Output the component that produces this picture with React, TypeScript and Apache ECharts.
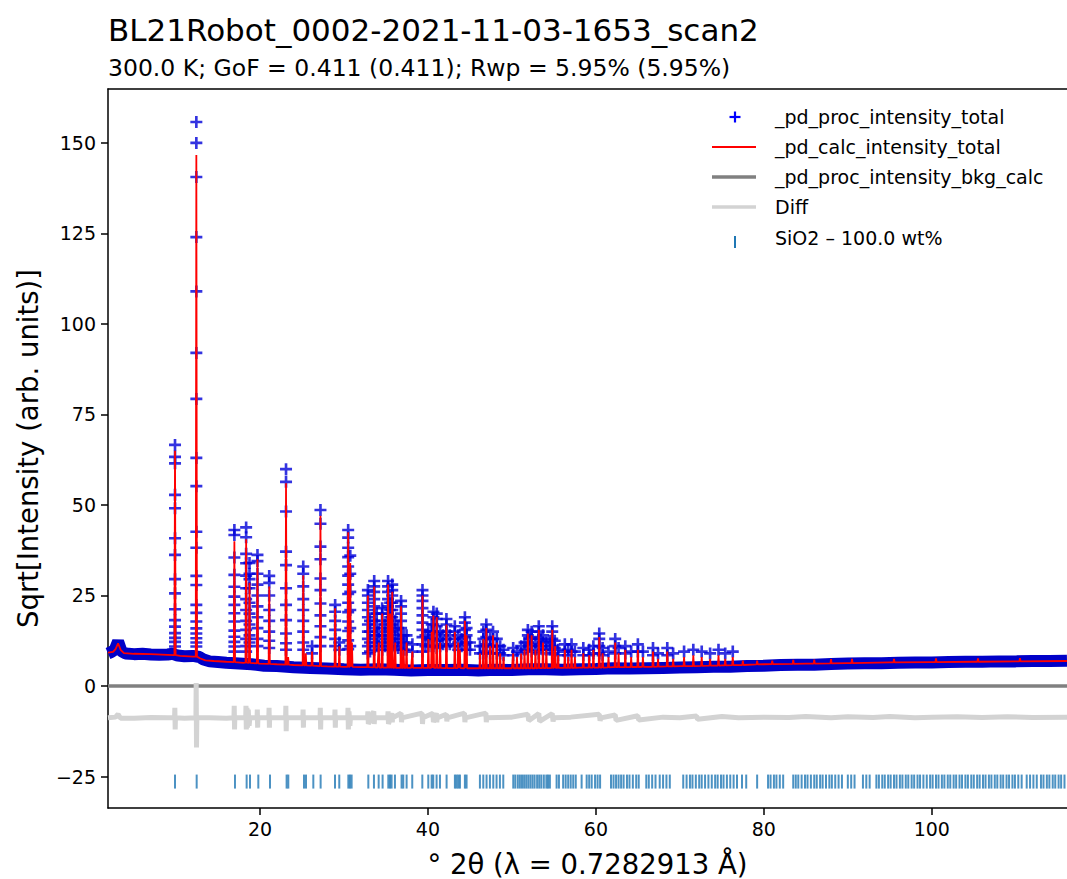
import React, { useEffect, useRef } from "react";
import * as echarts from "echarts";

const FONT = "'DejaVu Sans', 'Noto Sans', sans-serif";

const titleText = "BL21Robot_0002-2021-11-03-1653_scan2";
const subtitleText = "300.0 K; GoF = 0.411 (0.411); Rwp = 5.95% (5.95%)";
const xLabel = "° 2θ (λ = 0.7282913 Å)";
const yLabel = "Sqrt[Intensity (arb. units)]";
const legendNames = [
  "_pd_proc_intensity_total",
  "_pd_calc_intensity_total",
  "_pd_proc_intensity_bkg_calc",
  "Diff",
  "SiO2 – 100.0 wt%",
];

const xTicks = [20, 40, 60, 80, 100];
const yTicks = [-25, 0, 25, 50, 75, 100, 125, 150];
const X_MIN = 1.9;
const X_MAX = 116.1;
const Y_MIN = -33.7;
const Y_MAX = 164.9;

// observed baseline (dense markers form a band)
const obsBase: number[][] = [
  [1.9, 9.0], [2.3, 9.4], [2.7, 10.0], [3.1, 12.3], [3.5, 9.6], [4.0, 9.0], [5, 8.8], [6, 8.9],
  [7, 8.7], [8, 8.6], [9, 8.7], [9.6, 8.9], [10.2, 8.4], [11, 8.2], [12, 8.3], [12.8, 8.0],
  [13.3, 7.3], [14, 6.8], [15, 6.6], [16, 6.4], [17.5, 6.2], [19, 6.0], [20.5, 5.6], [22, 5.5],
  [24, 5.2], [26, 5.0], [28, 4.8], [30, 4.6], [32, 4.5], [34, 4.6], [36, 4.5], [38, 4.3],
  [40, 4.4], [42, 4.4], [44, 4.5], [46, 4.3], [48, 4.5], [50, 4.4], [52, 4.6], [54, 4.6],
  [56, 4.5], [58, 4.6], [60, 4.7], [62, 4.9], [64, 4.8], [66, 4.9], [68, 5.0], [70, 5.1],
  [72, 5.2], [74, 5.3], [76, 5.3], [78, 5.5], [80, 5.6], [82, 5.8], [84, 5.9], [86, 5.9],
  [88, 6.1], [90, 6.2], [92, 6.3], [94, 6.3], [96, 6.4], [98, 6.5], [100, 6.5], [102, 6.6],
  [104, 6.7], [106, 6.7], [108, 6.8], [110, 6.8], [112, 6.9], [114, 6.9], [116.1, 7.0],
];

// observed points on the peaks: [2theta, [values...]]
const obsStacks: [number, number[]][] = [
  [9.88, [66.6, 63.3, 61.5, 52.8, 49.1, 40.8, 36.2, 29.5, 25.6, 21.2, 18.2, 16.4, 14.6, 13.3, 12.2, 10.9]],
  [12.42, [155.8, 150, 140.6, 124, 109, 92, 79.3, 63, 55.2, 42.6, 38.2, 30.4, 27.9, 22.4, 20.2, 17.8, 15.9, 14.5, 13.2, 12, 10.9]],
  [16.95, [43.1, 41.7, 35.5, 30.7, 27.4, 24.7, 22.4, 20.1, 17.8, 15.3, 13.6, 12.2, 10.9, 9.5]],
  [18.35, [43.8, 41.1, 36.5, 33.9, 30.5, 27, 24, 21, 18, 15.5, 13, 11, 9.5]],
  [18.75, [34, 31, 29.5, 27, 23, 20, 17, 14, 12]],
  [19.7, [36.2, 34.5, 31, 28, 25, 22, 19, 16, 13, 11]],
  [21.1, [30.4, 28.5, 25, 21, 18, 15, 12.5, 10.5]],
  [23.1, [59.9, 56.4, 48.2, 37.1, 33.4, 27, 22.4, 18.2, 14.5, 11.8, 10]],
  [25.15, [33, 31, 27.5, 24, 21, 18, 15, 12, 10]],
  [26.2, [11, 9]],
  [27.2, [48.6, 44.8, 38.5, 35, 29.7, 26.5, 22.8, 19.5, 16.5, 13.5, 11]],
  [28.95, [22.4, 20.5, 18, 15.5, 13, 11]],
  [29.45, [12, 10]],
  [30.5, [43.1, 41, 38.2, 35.6, 33, 30.5, 28, 25.4, 23, 20.4, 17.8, 15.2, 12.6, 10.2]],
  [30.75, [36, 31, 26, 21, 16, 11]],
  [32.85, [26.5, 25, 23, 21, 19, 17, 15, 13, 11, 9]],
  [33.1, [18, 15, 12, 9.5]],
  [33.6, [29, 27.5, 26, 24, 22, 20, 18, 16, 14, 12, 10]],
  [33.9, [20, 17, 14, 11]],
  [34.15, [15, 13, 11]],
  [34.55, [21.5, 20, 18, 16, 14, 12, 10]],
  [34.9, [17, 14, 11]],
  [35.25, [29, 27.5, 26, 24, 22, 20, 18, 16, 14, 12, 10]],
  [35.5, [23, 21, 19, 17, 15, 13, 11]],
  [35.75, [28, 26.5, 25, 23, 21, 19, 17, 15, 13, 11]],
  [36.1, [18, 15.5, 13, 11]],
  [36.45, [16, 13, 10.5]],
  [36.8, [23.5, 22, 20, 18, 16, 14, 12, 10]],
  [37.1, [14, 12, 10]],
  [37.45, [14, 12, 10]],
  [38.15, [11.5, 9.5]],
  [39.35, [26.5, 25, 23.5, 21.5, 19.5, 17.5, 15.5, 13.5, 11.5, 9.5]],
  [39.7, [14, 11]],
  [40.05, [15, 13, 11]],
  [40.45, [17, 15, 13, 11]],
  [40.65, [20.5, 19, 17, 15, 13, 11]],
  [41.05, [20, 18.5, 16.5, 14.5, 12.5, 10.5]],
  [41.45, [15, 13, 11]],
  [41.8, [14, 11.5]],
  [42.2, [18.5, 17, 15, 13, 11]],
  [42.6, [14, 11.5]],
  [43.2, [16.5, 15, 13, 11]],
  [43.6, [14, 12, 10]],
  [44.0, [13, 11]],
  [44.4, [19, 17.5, 15.5, 13.5, 11.5]],
  [44.6, [16, 14, 12, 10]],
  [45.0, [12, 10]],
  [46.2, [11, 9]],
  [46.6, [15, 13, 11, 9]],
  [46.95, [17, 15.5, 13.5, 11.5, 9.5]],
  [47.4, [13, 11, 9]],
  [47.75, [15, 13, 11]],
  [48.2, [13, 11, 9]],
  [48.6, [11, 9]],
  [49.0, [10, 8.5]],
  [50.15, [10.5, 8.5]],
  [50.6, [9.5]],
  [51.1, [11, 9]],
  [51.5, [12, 10]],
  [51.9, [15.5, 14, 12, 10]],
  [52.1, [13, 11]],
  [52.35, [15, 13.5, 11.5, 9.5]],
  [52.8, [12, 10]],
  [53.2, [16.5, 15, 13, 11, 9]],
  [53.45, [13, 11]],
  [53.7, [14, 12, 10]],
  [54.1, [12, 10]],
  [54.5, [12.5, 10]],
  [54.8, [16.5, 15, 13, 11, 9]],
  [55.1, [12.5, 10.5]],
  [55.5, [10, 8.5]],
  [56.3, [11.5, 9.5]],
  [56.7, [10, 8.5]],
  [57.1, [11.5, 9.5]],
  [57.5, [9.5]],
  [58.5, [10.5, 8.5]],
  [59.2, [10, 8.5]],
  [59.7, [11, 9]],
  [60.4, [14.5, 13, 11, 9]],
  [60.8, [10.5, 8.5]],
  [61.5, [9.5]],
  [62.3, [13, 11, 9]],
  [62.7, [10.5]],
  [63.5, [11, 9]],
  [64.2, [9.5]],
  [65.0, [11.5, 9.5]],
  [65.6, [9.5]],
  [66.8, [10.5, 8.5]],
  [67.4, [9]],
  [68.5, [10.5, 8.5]],
  [69.2, [9]],
  [70.5, [9.5]],
  [71.6, [10]],
  [72.6, [9.5]],
  [73.6, [9]],
  [74.6, [10]],
  [75.4, [9]],
  [76.3, [9.5]],
];

// calculated profile baseline
const calcBase: number[][] = [
  [1.9, 9.2], [2.5, 9.4], [2.8, 10.2], [3.1, 11.8], [3.4, 10.0], [3.8, 9.1], [5, 8.9], [7, 8.8],
  [9, 8.6], [10.5, 8.3], [12, 8.1], [12.9, 7.6], [13.5, 7.1], [14.5, 6.9], [16, 6.7], [18, 6.4],
  [20, 6.2], [22, 6.0], [24, 5.8], [26, 5.6], [28, 5.4], [30, 5.3], [32, 5.2], [34, 5.1],
  [36, 5.0], [38, 5.0], [42, 4.95], [45, 4.9], [48, 4.9], [50, 4.9], [55, 5.0], [58, 5.05],
  [62, 5.2], [66, 5.3], [70, 5.5], [75, 5.7], [80, 6.0], [85, 6.2], [90, 6.3], [95, 6.5],
  [100, 6.6], [105, 6.7], [110, 6.8], [116.1, 6.9],
];

// calculated peaks: [2theta, top, foot]
const calcPeaks: number[][] = [
  [9.88, 65, 8.5], [12.42, 146.7, 8.1], [16.95, 40, 6.6], [18.35, 40.5, 6.45], [18.75, 28.5, 6.4],
  [19.7, 35, 6.25], [21.1, 27.5, 6.1], [23.1, 56, 5.9], [23.35, 8, 5.9], [25.15, 30.5, 5.7],
  [25.45, 9, 5.7], [26.2, 9.5, 5.6], [27.2, 47, 5.5], [28.95, 21.5, 5.35], [29.45, 11, 5.35],
  [30.5, 42.5, 5.3], [30.75, 34, 5.3], [30.95, 12, 5.3], [32.85, 25, 5.2], [33.6, 27.5, 5.15],
  [34.15, 12, 5.1], [34.55, 20, 5.1], [35.25, 28, 5.05], [35.5, 20, 5.05], [35.75, 26, 5.05],
  [36.1, 12, 5.0], [36.8, 22, 5.0], [37.1, 10, 5.0], [37.45, 12, 5.0], [38.15, 9.5, 5.0],
  [39.35, 25, 5.0], [40.05, 13, 5.0], [40.45, 15, 5.0], [40.65, 19.5, 5.0], [41.05, 19, 5.0],
  [41.45, 12, 5.0], [42.2, 17, 4.95], [43.2, 15, 4.95], [43.6, 12, 4.95], [43.8, 10, 4.95],
  [44.4, 18, 4.9], [44.6, 14, 4.9], [46.2, 9, 4.9], [46.6, 13, 4.9], [46.95, 16, 4.9],
  [47.4, 11, 4.9], [47.75, 14, 4.9], [48.2, 12, 4.9], [48.6, 9, 4.9], [49.0, 8, 4.9],
  [50.15, 9, 4.9], [50.6, 8, 4.9], [51.1, 9, 4.9], [51.5, 10, 4.9], [51.9, 14.5, 4.9],
  [52.35, 14, 4.9], [52.8, 10, 4.9], [53.2, 15.5, 4.95], [53.7, 12, 4.95], [54.1, 10, 4.95],
  [54.8, 15.5, 5.0], [55.15, 11, 5.0], [55.5, 8.5, 5.0], [56.3, 10, 5.0], [56.7, 8, 5.0],
  [57.1, 10, 5.0], [57.5, 8, 5.0], [58.5, 9, 5.05], [59.2, 8.5, 5.1], [59.7, 10, 5.1],
  [60.4, 13.5, 5.1], [60.8, 9, 5.1], [61.5, 8, 5.15], [62.3, 12, 5.2], [62.7, 9, 5.2],
  [63.5, 10, 5.2], [64.2, 8, 5.25], [65.0, 10, 5.25], [65.6, 8, 5.3], [66.8, 9.5, 5.3],
  [67.4, 7.5, 5.35], [68.5, 9.5, 5.4], [69.2, 7.5, 5.4], [70.5, 8, 5.5], [71.6, 8.5, 5.5],
  [72.6, 8, 5.55], [73.6, 7.5, 5.6], [74.6, 8.5, 5.65], [75.4, 7.5, 5.7], [76.3, 8, 5.75],
  [77.5, 7, 5.8], [79.2, 7, 5.95], [81, 7, 6.05], [83.5, 7.2, 6.1], [86, 7.3, 6.2],
  [88, 7.4, 6.25], [90.5, 7.5, 6.3], [95.5, 7.5, 6.5], [100.5, 7.6, 6.6], [105.5, 7.6, 6.7],
  [110.5, 7.7, 6.8],
];

const bkgX = [X_MIN, X_MAX];
const bkgY = [0, 0];

// difference curve
const diffPts: number[][] = [
  [1.9, -8.8], [2.8, -8.6], [3.1, -7.8], [3.4, -8.9], [5, -8.9], [7, -8.7], [9, -8.8],
  [9.83, -8.8], [9.86, -6], [9.9, -12], [9.93, -8.8], [11, -8.9],
  [12.37, -8.8], [12.4, 0.8], [12.44, -17], [12.48, -8.8], [14, -8.8], [16, -8.9],
  [16.9, -8.8], [16.93, -5.5], [16.97, -12], [17.0, -8.8],
  [18.3, -8.8], [18.33, -5.5], [18.37, -12], [18.45, -6], [18.5, -11.5], [18.6, -6.5], [18.7, -11], [18.8, -8.8],
  [19.65, -8.8], [19.68, -6.5], [19.72, -11.5], [19.75, -8.8],
  [21.05, -8.8], [21.08, -6], [21.12, -11.5], [21.15, -8.8],
  [23.05, -8.8], [23.08, -5.5], [23.12, -12.5], [23.15, -8.8],
  [25.1, -8.8], [25.13, -6.5], [25.17, -11.5], [25.2, -8.8],
  [27.15, -8.8], [27.18, -6], [27.22, -12], [27.25, -8.8],
  [28.9, -8.8], [28.93, -6.5], [28.97, -11.5], [29.0, -8.8],
  [30.45, -8.8], [30.48, -6], [30.52, -12], [30.6, -7], [30.7, -11], [30.78, -8.8],
  [32.8, -8.8], [32.85, -7], [32.9, -10.5], [33.55, -7], [33.6, -10.5], [33.65, -8.8],
  [35.2, -8.8], [35.25, -7], [35.3, -10.5], [35.7, -7.5], [35.75, -10], [35.8, -8.8],
  [36.8, -7.5], [36.85, -10], [36.9, -8.8],
  [39.3, -7.5], [39.35, -10.5], [39.4, -8.8],
  [40.6, -7.5], [40.65, -10], [41.0, -7.5], [41.05, -10], [41.1, -8.8],
  [42.2, -7.8], [42.25, -9.8], [42.3, -8.8],
  [44.35, -7.5], [44.4, -10], [44.45, -8.8],
  [46.9, -7.5], [46.95, -10], [47.0, -8.8],
  [50, -8.6], [51.9, -7.8], [52.0, -9.6], [53.2, -7.6], [53.3, -9.8], [54.8, -7.6], [54.9, -9.8], [55, -8.8],
  [57, -8.6], [60.4, -7.8], [60.5, -9.6], [60.6, -8.8],
  [62.3, -8], [62.4, -9.5], [65, -8.2], [65.1, -9.4], [68, -8.6], [70, -8.8], [72, -8.3], [72.1, -9.2],
  [75, -8.4], [77, -8.8], [80, -8.6], [83, -8.7], [85, -8.4], [88, -8.8], [90, -8.5], [93, -8.7],
  [95, -8.4], [98, -8.8], [100, -8.6], [103, -8.5], [106, -8.7], [109, -8.5], [112, -8.7], [116.1, -8.6],
];

// SiO2 reflection positions
const reflPos = [
  9.88, 12.46, 17.02, 18.41, 18.81, 19.8, 21.19, 23.17, 23.37, 25.24, 25.48, 26.35, 27.22, 28.93, 29.44,
  30.52, 30.71, 30.91, 32.9, 33.57, 34.13, 34.6, 35.28, 35.48, 35.67, 36.07, 36.86, 37.06, 37.46, 38.13,
  39.33, 40.04, 40.44, 40.63, 41.03, 41.43, 42.22, 43.21, 43.41, 43.61, 43.81, 44.4, 44.6, 46.19, 46.59,
  46.98, 47.38, 47.78, 48.17, 48.57, 48.97, 50.16, 50.4, 50.7, 50.95, 51.2, 51.45, 51.7, 51.95, 52.2,
  52.45, 52.7, 53.0, 53.25, 53.5, 53.8, 54.1, 54.3, 54.52, 55.32, 55.6, 56.1, 56.4, 56.7, 57.0, 57.3,
  57.6, 58.3, 58.9, 59.2, 59.5, 59.9, 60.2, 60.5, 61.8, 62.1, 62.4, 62.7, 63.0, 63.3, 63.7, 64.0, 64.4,
  64.8, 65.1, 66.0, 66.3, 66.7, 67.1, 67.6, 68.0, 68.4, 68.8, 70.4, 70.8, 71.2, 71.5, 71.9, 72.3, 72.6,
  73.0, 73.4, 73.8, 74.2, 74.5, 74.9, 75.2, 75.6, 76.0, 76.4, 76.8, 77.4, 77.9, 79.2, 80.5, 80.8, 81.2,
  81.5, 81.9, 82.3, 83.5, 83.8, 84.1, 84.5, 84.9, 85.2, 85.6, 86.0, 86.3, 86.7, 87.0, 87.4, 87.8, 88.1,
  88.5, 88.9, 89.3, 90.0, 90.4, 90.8, 91.8, 92.2, 92.6, 93.4, 93.7, 94.1, 94.4, 94.8, 95.1, 95.5, 95.8,
  96.2, 96.5, 96.9, 97.2, 97.6, 97.9, 98.3, 98.6, 99.0, 99.4, 99.8, 100.1, 100.5, 100.8, 101.2, 101.5,
  101.9, 102.2, 102.6, 102.9, 103.3, 103.6, 104.0, 104.3, 104.7, 105.0, 105.4, 105.7, 106.1, 106.4,
  106.8, 107.1, 107.5, 107.8, 108.2, 108.5, 108.9, 109.2, 109.6, 109.9, 110.3, 110.7, 111.3, 111.7,
  112.1, 112.5, 113.0, 113.3, 113.7, 114.0, 114.4, 114.7, 115.1, 115.4, 115.8,
];
const reflLevel = -26.4;

const PLUS = "path://M3.9,0h2.2v3.9h3.9v2.2h-3.9v3.9h-2.2v-3.9h-3.9v-2.2h3.9z";

const fmtTick = (v: number) => (v < 0 ? "\u2212" + Math.abs(v) : String(v));

export default function App() {
  const ref = useRef<HTMLDivElement>(null);
  useEffect(() => {
    if (!ref.current) return;
    const chart = echarts.init(ref.current, null, { renderer: "svg" });

    const obsPoints: number[][] = [];
    obsStacks.forEach(([x, ys]) => ys.forEach((y) => obsPoints.push([x, y])));

    const calcLine = [
      ...calcBase,
      ...calcPeaks.flatMap(([x, top, foot]) => [
        [x - 0.07, foot],
        [x, top],
        [x + 0.07, foot],
      ]),
    ].sort((a, b) => a[0] - b[0]);

    const bkg = bkgX.map((x, i) => [x, bkgY[i]]);
    const refl = reflPos.map((x) => [x, reflLevel]);

    const legendRows = [117, 147, 177, 207, 238];
    const legendGraphics: any[] = [
      { type: "rect", shape: { x: 729.5, y: 115.9, width: 11, height: 2.2 }, style: { fill: "#0000ff" } },
      { type: "rect", shape: { x: 733.9, y: 111.5, width: 2.2, height: 11 }, style: { fill: "#0000ff" } },
      { type: "line", shape: { x1: 712, y1: 147, x2: 756, y2: 147 }, style: { stroke: "#ff0000", lineWidth: 1.8 } },
      { type: "line", shape: { x1: 712, y1: 177, x2: 756, y2: 177 }, style: { stroke: "#808080", lineWidth: 3.5 } },
      { type: "line", shape: { x1: 712, y1: 207, x2: 756, y2: 207 }, style: { stroke: "#d3d3d3", lineWidth: 3.5 } },
      { type: "rect", shape: { x: 734, y: 236, width: 2, height: 12 }, style: { fill: "#1f77b4" } },
      ...legendNames.map((name, i) => ({
        type: "text",
        x: 775,
        y: legendRows[i],
        style: {
          text: name,
          font: `19px ${FONT}`,
          fill: "#000",
          verticalAlign: "middle",
          align: "left",
        },
      })),
      {
        type: "text",
        x: 108,
        y: 30,
        style: { text: titleText, font: `31px ${FONT}`, fill: "#000", verticalAlign: "middle", align: "left" },
      },
      {
        type: "text",
        x: 108,
        y: 68,
        style: { text: subtitleText, font: `23.5px ${FONT}`, fill: "#000", verticalAlign: "middle", align: "left" },
      },
    ];

    const option: any = {
      animation: false,
      backgroundColor: "#ffffff",
      textStyle: { fontFamily: FONT },
      grid: {
        left: 108,
        top: 89,
        right: 0,
        bottom: 879 - 808,
        containLabel: false,
        outerBoundsMode: "none",
      },
      xAxis: [
        {
          type: "value",
          min: X_MIN,
          max: X_MAX,
          name: xLabel,
          nameLocation: "middle",
          nameGap: 42,
          nameTextStyle: { fontSize: 27.5, color: "#000", fontFamily: FONT },
          axisLine: { show: true, onZero: false, lineStyle: { color: "#000", width: 1.5 } },
          axisTick: { show: true, inside: false, length: 7, customValues: xTicks, lineStyle: { color: "#000", width: 1.5 } },
          axisLabel: { show: true, customValues: xTicks, fontSize: 19, color: "#000", margin: 11, fontFamily: FONT },
          splitLine: { show: false },
        },
        {
          type: "value",
          position: "top",
          min: X_MIN,
          max: X_MAX,
          axisLine: { show: true, onZero: false, lineStyle: { color: "#000", width: 1.5 } },
          axisTick: { show: false },
          axisLabel: { show: false },
          splitLine: { show: false },
        },
      ],
      yAxis: {
        type: "value",
        min: Y_MIN,
        max: Y_MAX,
        name: yLabel,
        nameLocation: "middle",
        nameGap: 66,
        nameRotate: 90,
        nameTextStyle: { fontSize: 27.5, color: "#000", fontFamily: FONT },
        axisLine: { show: true, onZero: false, lineStyle: { color: "#000", width: 1.5 } },
        axisTick: { show: true, inside: false, length: 7, customValues: yTicks, lineStyle: { color: "#000", width: 1.5 } },
        axisLabel: {
          show: true,
          customValues: yTicks,
          fontSize: 19,
          color: "#000",
          margin: 12,
          fontFamily: FONT,
          formatter: fmtTick,
        },
        splitLine: { show: false },
      },
      graphic: legendGraphics,
      series: [
        {
          name: "obs-band",
          type: "line",
          data: obsBase,
          showSymbol: false,
          silent: true,
          lineStyle: { color: "#0000c8", width: 12 },
          z: 1,
        },
        {
          name: legendNames[0],
          type: "scatter",
          data: obsPoints,
          symbol: PLUS,
          symbolSize: 12,
          itemStyle: { color: "#0000d8" },
          silent: true,
          z: 2,
        },
        {
          name: legendNames[1],
          type: "line",
          data: calcLine,
          showSymbol: false,
          silent: true,
          lineStyle: { color: "#ff0000", width: 1.8 },
          z: 3,
        },
        {
          name: legendNames[2],
          type: "line",
          data: bkg,
          showSymbol: false,
          silent: true,
          lineStyle: { color: "#808080", width: 3.5 },
          z: 4,
        },
        {
          name: legendNames[3],
          type: "line",
          data: diffPts,
          showSymbol: false,
          silent: true,
          lineStyle: { color: "#d3d3d3", width: 5 },
          z: 5,
        },
        {
          name: legendNames[4],
          type: "scatter",
          data: refl,
          symbol: "rect",
          symbolSize: [2, 14],
          itemStyle: { color: "#1f77b4" },
          silent: true,
          z: 6,
        },
      ],
    };
    chart.setOption(option);
    return () => chart.dispose();
  }, []);

  return (
    <div
      ref={ref}
      style={{ position: "absolute", left: 0, top: 0, width: 1067, height: 879, background: "#fff" }}
    />
  );
}
